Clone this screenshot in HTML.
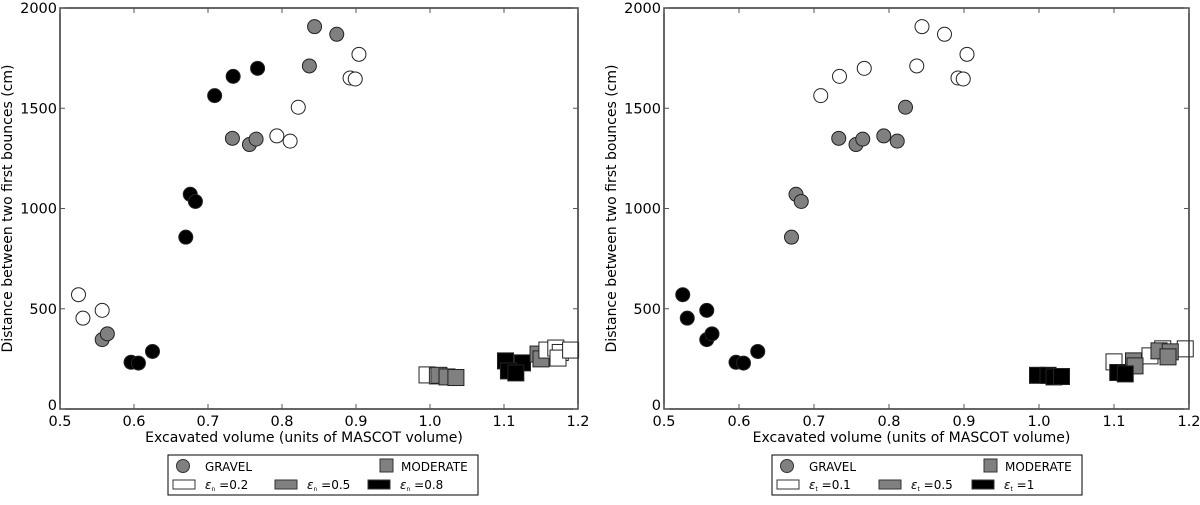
<!DOCTYPE html>
<html><head><meta charset="utf-8"><style>
body{margin:0;background:#fff;width:1200px;height:500px;overflow:hidden}
svg text{font-family:"DejaVu Sans","Liberation Sans",sans-serif;fill:#000}
</style></head><body>
<svg id="fig" width="1200" height="500" xmlns="http://www.w3.org/2000/svg"></svg>
<script>
// shared data (x = excavated volume, y = distance cm)
const circleX = [0.525,0.531,0.557,0.822,0.793,0.811,0.892,0.899,0.904, 0.557,0.564,0.733,0.756,0.765,0.844,0.874,0.837, 0.596,0.606,0.625,0.670,0.676,0.683,0.709,0.734,0.767];
const circleY = [570,453,492,1505,1362,1336,1651,1646,1769, 346,375,1350,1319,1346,1907,1869,1711, 233,229,287,857,1071,1035,1563,1659,1699];
const circleClassLeft = [0,0,0,0,0,0,0,0,0, 1,1,1,1,1,1,1,1, 2,2,2,2,2,2,2,2,2];
const squareXLeft = [0.996,1.010,1.012,1.023,1.035, 1.102,1.125,1.106,1.116, 1.146,1.150, 1.158,1.170,1.176,1.173,1.190];
const squareYLeft = [170,165,168,160,157, 240,230,190,180, 274,250, 294,304,282,254,294];
const squareClassLeft = [0,0,1,1,1, 2,2,2,2, 1,1, 0,0,0,0,0];
const circleClassRight = [2,2,2,1,1,1,0,0,0, 2,2,1,1,1,0,0,0, 2,2,2,1,1,1,0,0,0];
const squareXRight = [0.998,1.012,1.020,1.030, 1.100,1.148,1.165,1.195, 1.126,1.128,1.160,1.175,1.172, 1.105,1.115];
const squareYRight = [168,168,160,162, 235,265,300,300, 240,215,290,285,260, 182,175];
const squareClassRight = [2,2,2,2, 0,0,0,0, 1,1,1,1,1, 2,2];
const xTicks = [0.5,0.6,0.7,0.8,0.9,1.0,1.1,1.2];
const xTickLabels = ["0.5","0.6","0.7","0.8","0.9","1.0","1.1","1.2"];
const yTicks = [0,500,1000,1500,2000];
const yTickLabels = ["0","500","1000","1500","2000"];
const fills = ["#ffffff","#808080","#000000"];

const NS="http://www.w3.org/2000/svg";
const svg=document.getElementById('fig');
function mk(tag,attrs,parent){const e=document.createElementNS(NS,tag);for(const k in attrs)e.setAttribute(k,attrs[k]);(parent||svg).appendChild(e);return e;}

function panel(L,R,T,B,cls,sqx,sqy,sqc,sym,vals,name){
  const g=mk('g',{});
  
  
  const sx=v=>L+(v-0.5)/0.7*(R-L);
  const sy=v=>B-v/2000*(B-T);
  for(let i=0;i<circleX.length;i++){
    const c=mk('circle',{cx:sx(circleX[i]),cy:sy(circleY[i]),r:7,fill:fills[cls[i]],stroke:'#222','stroke-width':1},g);
    
    
  }
  for(let i=0;i<sqx.length;i++){
    const s=mk('rect',{x:sx(sqx[i])-8,y:sy(sqy[i])-8,width:16,height:16,fill:fills[sqc[i]],stroke:'#222','stroke-width':1},g);
    
    
  }
  const fr=mk('rect',{x:L,y:T,width:R-L,height:B-T,fill:'none',stroke:'#333','stroke-width':1.5},g);
  
  
  xTicks.forEach((t,i)=>{
    const x=sx(t);
    mk('line',{x1:x,x2:x,y1:B,y2:B-5,stroke:'#555'},g);
    mk('line',{x1:x,x2:x,y1:T,y2:T+5,stroke:'#555'},g);
    const tx=mk('text',{x:x,y:B+17,'font-size':14.5,'text-anchor':'middle'},g);
    tx.textContent=xTickLabels[i];
    
    
  });
  yTicks.forEach((t,i)=>{
    const y=sy(t);
    mk('line',{x1:L,x2:L+5,y1:y,y2:y,stroke:'#555'},g);
    mk('line',{x1:R,x2:R-5,y1:y,y2:y,stroke:'#555'},g);
    const tx=mk('text',{x:L-3,y:y+(t===0?1:5),'font-size':14.5,'text-anchor':'end'},g);
    tx.textContent=yTickLabels[i];
    
    
  });
  const xl=mk('text',{x:(L+R)/2-15,y:B+33,'font-size':14,'text-anchor':'middle'},g);
  xl.textContent='Excavated volume (units of MASCOT volume)';
  
  
  const yl=mk('text',{x:0,y:0,'font-size':14,'text-anchor':'middle',transform:`translate(${L-48},${(T+B)/2}) rotate(-90)`},g);
  yl.textContent='Distance between two first bounces (cm)';
  
  
  const lx=L+108, ly=455;
  const lg=mk('g',{},g);
  
  
  mk('rect',{x:lx,y:ly,width:310,height:40,fill:'#fff',stroke:'#000','stroke-width':1},lg);
  mk('circle',{cx:lx+15,cy:ly+11,r:6.5,fill:'#808080',stroke:'#333'},lg);
  let t=mk('text',{x:lx+37,y:ly+16,'font-size':12},lg); t.textContent='GRAVEL';
  mk('rect',{x:lx+212,y:ly+4,width:13,height:13,fill:'#808080',stroke:'#333'},lg);
  t=mk('text',{x:lx+233,y:ly+16,'font-size':12},lg); t.textContent='MODERATE';
  const ox=[5,107,200];
  for(let i=0;i<3;i++){
    mk('rect',{x:lx+ox[i],y:ly+25,width:22,height:9,fill:fills[i],stroke:'#333'},lg);
    const e=mk('text',{x:lx+ox[i]+32,y:ly+34,'font-size':12,'font-family':'Liberation Serif, serif'},lg);
    e.innerHTML='<tspan font-style="italic">ε</tspan><tspan font-size="6" dy="2">'+sym+'</tspan><tspan dy="-2"> =</tspan>'+vals[i];
    
    
  }
}
panel(60,578,8,409,circleClassLeft,squareXLeft,squareYLeft,squareClassLeft,'n',['0.2','0.5','0.8'],'left-panel');
panel(664,1189,8,409,circleClassRight,squareXRight,squareYRight,squareClassRight,'t',['0.1','0.5','1'],'right-panel');
</script>
</body></html>
